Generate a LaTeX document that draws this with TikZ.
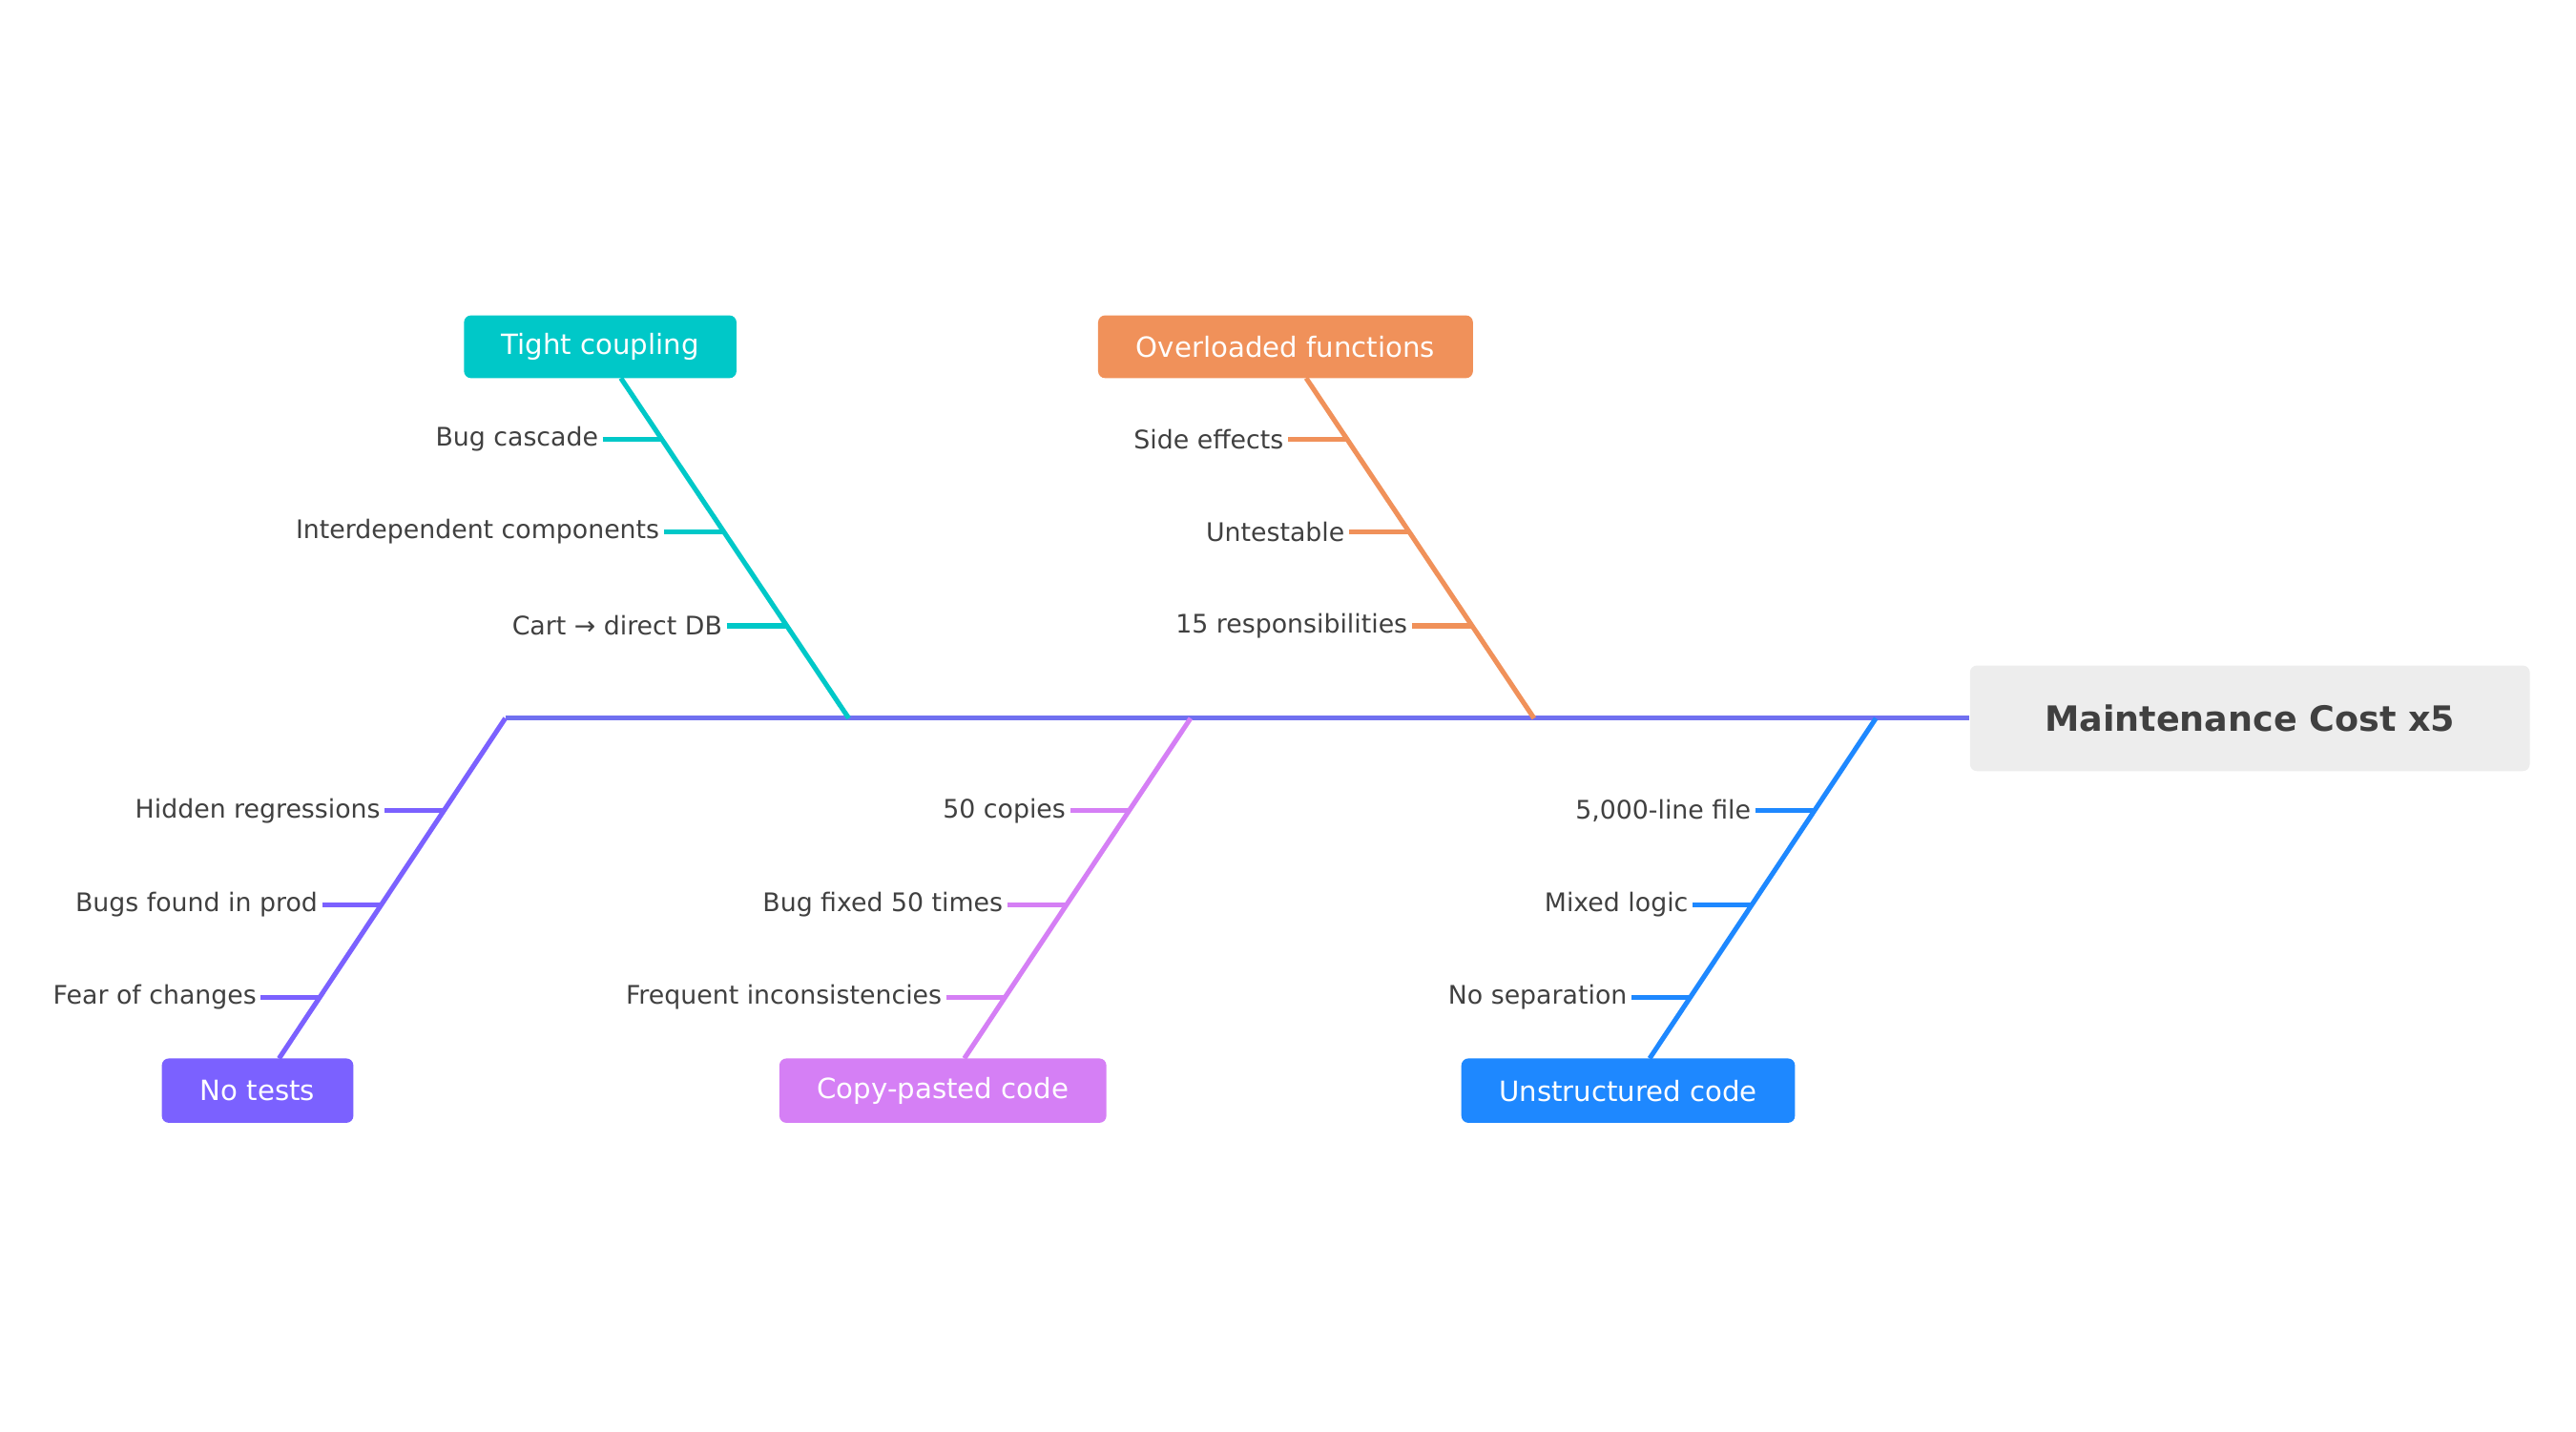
\documentclass[tikz,border=0pt]{standalone}
\usepackage{fontspec}
\setmainfont{DejaVu Sans}
\begin{document}
\begin{tikzpicture}[x=0.025cm,y=-0.025cm,
 br/.style={line width=2.1pt},
 lab/.style={anchor=east,text=black!75,font=\fontsize{11}{13}\selectfont,inner sep=1pt},
 cat/.style={rounded corners=3pt,text=white,font=\fontsize{12}{14}\selectfont,inner sep=0pt}]
\definecolor{cT}{HTML}{00C8C8}\definecolor{cO}{HTML}{F0915A}
\definecolor{cN}{HTML}{7B61FF}\definecolor{cC}{HTML}{D57FF5}
\definecolor{cU}{HTML}{1E88FF}\definecolor{sp}{HTML}{7070F0}
\useasboundingbox (0,0) rectangle (1560,867);
% head
\node[fill=black!7,rounded corners=3pt,minimum width=339*0.025cm,minimum height=64*0.025cm,text=black!75,font=\fontsize{15}{18}\selectfont\bfseries] (head) at (1362.5,435) {Maintenance Cost x5};
\coordinate (s0) at (306,435);
\draw[br,sp] (s0) -- (head.west);
% categories
\newcommand\cat[7]{% name,color,x1,x2,y1,y2,text
 \node[cat,fill=#2,minimum width={(#4-#3)*0.025cm},minimum height={(#6-#5)*0.025cm}] (#1) at ({(#3+#4)/2},{(#5+#6)/2}) {#7};}
\cat{tc}{cT}{281}{446}{191}{229}{Tight coupling}
\cat{of}{cO}{665}{892}{191}{229}{Overloaded functions}
\cat{nt}{cN}{98}{214}{641}{680}{No tests}
\cat{cp}{cC}{472}{670}{641}{680}{Copy-pasted code}
\cat{uc}{cU}{885}{1087}{641}{680}{Unstructured code}
\coordinate (tcA) at (376,229); \coordinate (tcB) at (514,435);
\coordinate (ofA) at (791,229); \coordinate (ofB) at (929,435);
\coordinate (ntA) at (169,641); \coordinate (ntB) at (306,435);
\coordinate (cpA) at (584,641); \coordinate (cpB) at (721,435);
\coordinate (ucA) at (999,641); \coordinate (ucB) at (1136,435);
\draw[br,cT] (tcA) -- (tcB);
\draw[br,cO] (ofA) -- (ofB);
\draw[br,cN] (ntA) -- (ntB);
\draw[br,cC] (cpA) -- (cpB);
\draw[br,cU] (ucA) -- (ucB);
% ticks: name,color,x,y,text
\newcommand\tk[5]{\coordinate (#1e) at (#3,#4); \coordinate (#1s) at ({#3-36},#4);
 \draw[br,#2] (#1s) -- (#1e); \node[lab] (#1) at ({#3-37},#4) {#5};}
\tk{t1}{cT}{401}{266}{Bug cascade}
\tk{t2}{cT}{438}{322}{Interdependent components}
\tk{t3}{cT}{476}{379}{Cart → direct DB}
\tk{o1}{cO}{816}{266}{Side effects}
\tk{o2}{cO}{853}{322}{Untestable}
\tk{o3}{cO}{891}{379}{15 responsibilities}
\tk{n1}{cN}{269}{491}{Hidden regressions}
\tk{n2}{cN}{231}{548}{Bugs found in prod}
\tk{n3}{cN}{194}{604}{Fear of changes}
\tk{c1}{cC}{684}{491}{50 copies}
\tk{c2}{cC}{646}{548}{Bug fixed 50 times}
\tk{c3}{cC}{609}{604}{Frequent inconsistencies}
\tk{u1}{cU}{1099}{491}{5,000-line file}
\tk{u2}{cU}{1061}{548}{Mixed logic}
\tk{u3}{cU}{1024}{604}{No separation}
\end{tikzpicture}
\end{document}
